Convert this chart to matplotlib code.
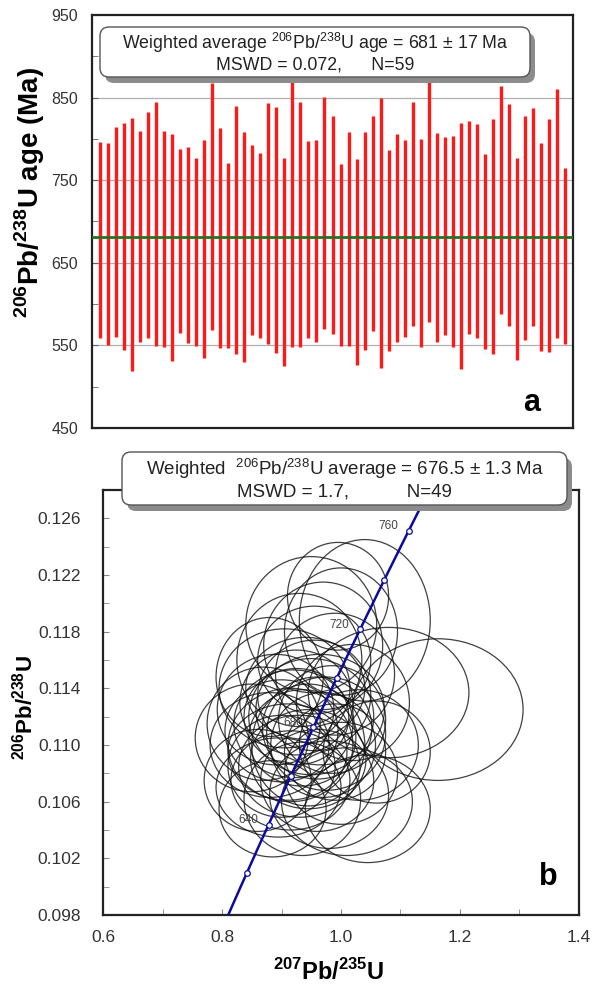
import numpy as np
import matplotlib.pyplot as plt
from matplotlib.patches import Ellipse, FancyBboxPatch

plt.rcParams['font.family'] = ['Liberation Sans', 'DejaVu Sans']
plt.rcParams['mathtext.fontset'] = 'custom'
plt.rcParams['mathtext.rm'] = 'Liberation Sans'
plt.rcParams['mathtext.bf'] = 'Liberation Sans:bold'

# === Panel a: single-grain 206Pb/238U ages (2 sigma bars) ===
age_hi = [796.7, 795.4, 814.8, 819.7, 824.9, 809.6, 832.2, 844.3, 809.6, 805.5,
          787.8, 790.6, 777.3, 798.7, 867.3, 813.6, 770.4, 840.2, 808.8, 792.6,
          782.5, 843.9, 838.2, 776.5, 869.3, 845.1, 797.9, 798.7, 851.1, 828.1,
          769.2, 808.8, 775.7, 808.8, 828.1, 849.9, 786.6, 805.5, 798.7, 844.3,
          799.9, 873.4, 807.6, 801.9, 803.9, 818.9, 822.1, 818.0, 781.3, 824.1,
          864.5, 841.9, 777.3, 828.1, 837.8, 794.6, 823.7, 860.0, 764.4]
age_lo = [558.6, 550.5, 560.6, 544.5, 519.0, 554.6, 558.6, 549.7, 548.5, 531.5,
          564.6, 553.4, 549.7, 534.4, 568.7, 546.5, 547.3, 539.2, 529.5, 562.6,
          559.4, 551.3, 540.4, 525.0, 548.5, 548.5, 559.4, 554.6, 569.9, 563.4,
          549.7, 549.7, 526.3, 544.5, 567.5, 523.0, 543.3, 554.6, 560.6, 573.9,
          548.5, 578.8, 554.6, 562.6, 548.5, 521.0, 563.8, 559.4, 545.7, 539.2,
          587.6, 573.9, 532.4, 556.6, 573.9, 543.3, 542.5, 559.4, 551.3]
mean_age = 681

# === Panel b: concordia ellipses (x = 207Pb/235U, y = 206Pb/238U, semi-axes) ===
ell_x = [0.900, 0.920, 0.935, 0.950, 0.960, 0.910, 0.890, 0.970, 0.925, 0.945,
         0.880, 0.985, 0.905, 0.955, 0.930, 0.870, 0.990, 0.915, 0.960, 0.935,
         0.895, 0.980, 1.000, 0.860, 0.850, 0.880, 0.930, 0.970, 0.950, 1.000,
         1.040, 0.990, 1.020, 1.080, 1.163, 1.030, 1.060, 1.010, 0.915, 0.940,
         0.965, 0.900, 0.945, 0.925, 0.975, 0.955, 0.885, 1.045, 0.995]
ell_y = [0.1110, 0.1115, 0.1105, 0.1120, 0.1112, 0.1095, 0.1125, 0.1100, 0.1130, 0.1090,
         0.1100, 0.1118, 0.1140, 0.1135, 0.1085, 0.1115, 0.1095, 0.1075, 0.1075, 0.1062,
         0.1070, 0.1065, 0.1080, 0.1075, 0.1105, 0.1148, 0.1160, 0.1170, 0.1185, 0.1180,
         0.1188, 0.1150, 0.1130, 0.1137, 0.1125, 0.1100, 0.1095, 0.1060, 0.1100, 0.1140,
         0.1125, 0.1085, 0.1100, 0.1120, 0.1108, 0.1160, 0.1055, 0.1055, 0.1205]
ell_a = [0.095, 0.100, 0.090, 0.105, 0.092, 0.100, 0.098, 0.088, 0.095, 0.097,
         0.100, 0.090, 0.110, 0.095, 0.102, 0.095, 0.085, 0.100, 0.095, 0.098,
         0.105, 0.100, 0.095, 0.090, 0.095, 0.090, 0.105, 0.100, 0.110, 0.095,
         0.110, 0.100, 0.095, 0.135, 0.143, 0.100, 0.090, 0.110, 0.105, 0.100,
         0.108, 0.090, 0.095, 0.088, 0.100, 0.095, 0.090, 0.105, 0.085]
ell_b = [0.0036, 0.0038, 0.0034, 0.0041, 0.0036, 0.0034, 0.0039, 0.0037, 0.0037, 0.0035,
         0.0037, 0.0038, 0.0042, 0.0039, 0.0036, 0.0040, 0.0034, 0.0035, 0.0036, 0.0040,
         0.0035, 0.0038, 0.0036, 0.0036, 0.0038, 0.0042, 0.0047, 0.0045, 0.0048, 0.0045,
         0.0057, 0.0043, 0.0041, 0.0046, 0.0050, 0.0039, 0.0036, 0.0038, 0.0040, 0.0036,
         0.0039, 0.0036, 0.0043, 0.0034, 0.0040, 0.0038, 0.0034, 0.0038, 0.0038]

# concordia tick ages (Ma) and labelled ones
conc_ticks = [620, 640, 660, 680, 700, 720, 740, 760, 780]
conc_labels = [640, 680, 720, 760]
L238 = 1.55125e-10
L235 = 9.8485e-10

W, H = 592, 984


def conc(t_ma):
    t = np.asarray(t_ma, dtype=float) * 1e6
    return np.exp(L235 * t) - 1, np.exp(L238 * t) - 1


def shadow_box(fig, x0, y0, w, h, s, fs):
    # rounded white box with grey drop shadow, given in pixels from top-left
    tr = fig.dpi_scale_trans
    dpi = fig.dpi
    sh = FancyBboxPatch(((x0 + 5) / dpi, (H - y0 - h - 6) / dpi), w / dpi, h / dpi,
                        boxstyle='round,pad=0,rounding_size=0.09', fc='#8c8c8c',
                        ec='none', transform=tr, zorder=8)
    bx = FancyBboxPatch((x0 / dpi, (H - y0 - h) / dpi), w / dpi, h / dpi,
                        boxstyle='round,pad=0,rounding_size=0.09', fc='white',
                        ec='#555555', lw=1.0, transform=tr, zorder=9)
    fig.add_artist(sh)
    fig.add_artist(bx)
    fig.text((x0 + w / 2) / W, 1 - (y0 + h / 2) / H, s, ha='center', va='center',
             fontsize=fs, color='#222222', linespacing=1.15, zorder=10)


fig = plt.figure(figsize=(W / 100, H / 100), dpi=100)

# ---------------- panel a ----------------
ax1 = fig.add_axes([92 / W, 1 - 428 / H, 481 / W, 413 / H])
idx = np.arange(1, len(age_hi) + 1)
ax1.vlines(idx, age_lo, age_hi, color='#ff1a1a', lw=2.4, zorder=3)
ax1.axhline(mean_age, color='#2f6b1f', lw=2.0, zorder=4)
ax1.set_xlim(0, 60)
ax1.set_ylim(450, 950)
ax1.set_xticks([])
ax1.set_yticks([450, 550, 650, 750, 850, 950])
ax1.set_yticks(np.arange(500, 950, 100), minor=True)
for g in [550, 650, 750, 850]:
    ax1.axhline(g, color='#b0b0b0', lw=0.9, zorder=1)
ax1.tick_params(axis='y', which='both', direction='in', length=4, color='#666666',
                labelsize=11.5, labelcolor='#333333', pad=10)
for s in ax1.spines.values():
    s.set_linewidth(1.6)
    s.set_color('#222222')
shadow_box(fig, 100, 27, 430, 50,
           'Weighted average $^{206}$Pb/$^{238}$U age = 681 ± 17 Ma\nMSWD = 0.072,      N=59', 12.8)
ax1.text(0.915, 0.06, 'a', transform=ax1.transAxes, fontsize=22, fontweight='bold',
         ha='center', va='center')
fig.text(30 / W, 1 - 192 / H, r'$^{\mathbf{206}}$Pb/$^{\mathbf{238}}$U age (Ma)',
         rotation=90, ha='center', va='center', fontsize=20, fontweight='bold')

# ---------------- panel b ----------------
ax2 = fig.add_axes([103 / W, 1 - 915 / H, 476 / W, 425 / H])
for x, y, a, b in zip(ell_x, ell_y, ell_a, ell_b):
    ax2.add_patch(Ellipse((x, y), 2 * a, 2 * b, fill=False, ec='#111111', lw=0.9,
                          alpha=0.8, zorder=2))
tt = np.linspace(580, 820, 200)
cx, cy = conc(tt)
ax2.plot(cx, cy, color='#0a0aa0', lw=1.8, zorder=3)
mx, my = conc(conc_ticks)
ax2.plot(mx, my, 'o', ms=4, mfc='white', mec='#0a0aa0', mew=0.9, zorder=4)
lx, ly = conc(conc_labels)
for t, x, y in zip(conc_labels, lx, ly):
    ax2.text(x - 0.018, y + 0.0003, str(t), fontsize=8.5, color='#444444',
             ha='right', va='center', zorder=5)
ax2.set_xlim(0.6, 1.4)
ax2.set_ylim(0.098, 0.128)
ax2.set_xticks([0.6, 0.8, 1.0, 1.2, 1.4])
ax2.set_xticks(np.arange(0.7, 1.4, 0.2), minor=True)
ax2.set_yticks(np.arange(0.098, 0.1265, 0.004))
ax2.set_yticks(np.arange(0.100, 0.128, 0.004), minor=True)
ax2.set_xticklabels(['0.6', '0.8', '1.0', '1.2', '1.4'])
ax2.set_yticklabels(['%.3f' % v for v in np.arange(0.098, 0.1265, 0.004)])
ax2.tick_params(which='both', direction='in', length=4, color='#888888',
                labelsize=12.5, labelcolor='#333333')
ax2.tick_params(axis='y', pad=16)
ax2.tick_params(axis='x', pad=11)
for s in ax2.spines.values():
    s.set_linewidth(1.6)
    s.set_color('#222222')
shadow_box(fig, 122, 452, 445, 53,
           'Weighted  $^{206}$Pb/$^{238}$U average = 676.5 ± 1.3 Ma\nMSWD = 1.7,           N=49', 13.5)
ax2.text(0.935, 0.09, 'b', transform=ax2.transAxes, fontsize=22, fontweight='bold',
         ha='center', va='center')
fig.text(25 / W, 1 - 708 / H, r'$^{\mathbf{206}}$Pb/$^{\mathbf{238}}$U',
         rotation=90, ha='center', va='center', fontsize=16, fontweight='bold')
fig.text(329 / W, 1 - 972 / H, r'$^{\mathbf{207}}$Pb/$^{\mathbf{235}}$U',
         ha='center', va='center', fontsize=17, fontweight='bold')

fig.savefig('out.png', dpi=100)
